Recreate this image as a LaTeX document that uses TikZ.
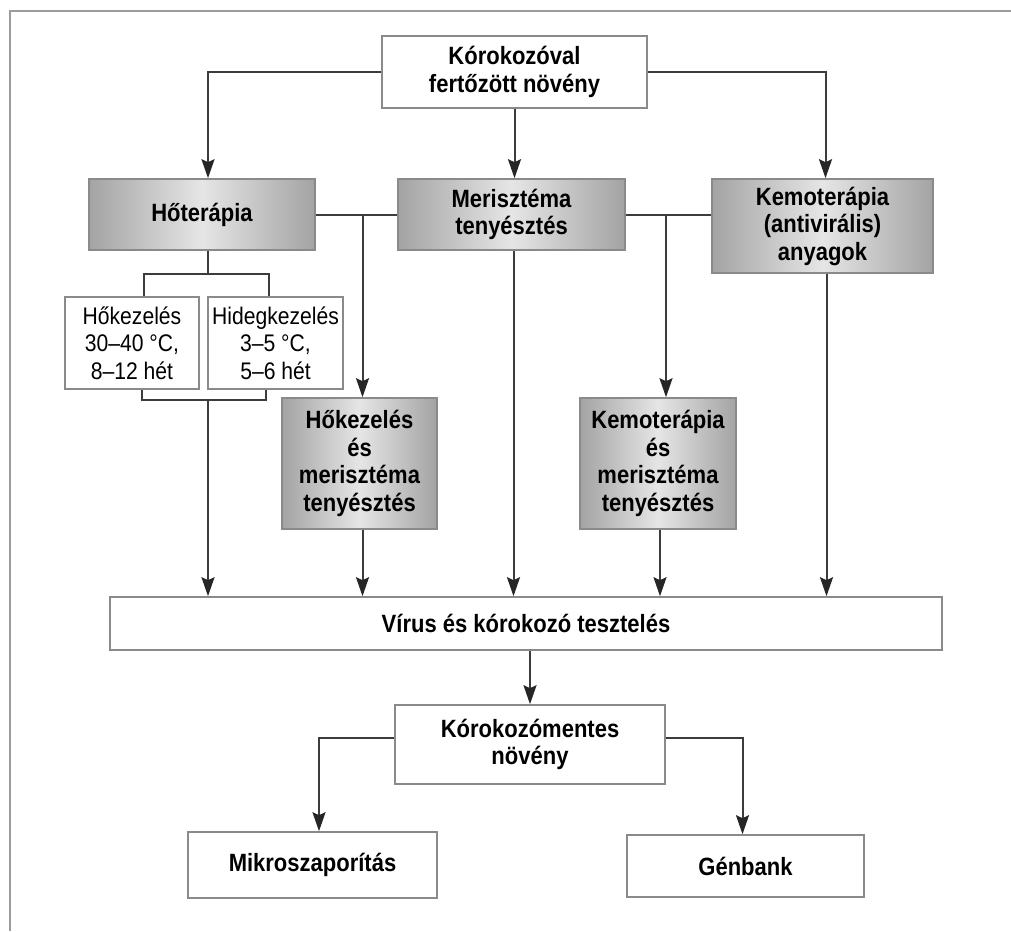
\documentclass[tikz,border=0pt]{standalone}
\usepackage{fontspec}
\setmainfont{Liberation Sans}[FakeStretch=0.88]
\usetikzlibrary{positioning, arrows.meta}

\definecolor{linegray}{HTML}{3C3C3C}
\definecolor{framegray}{HTML}{9C9C9C}
\definecolor{boxgray}{HTML}{8A8A8A}

\begin{document}
\begin{tikzpicture}[
    x=1pt, y=-1pt,
    >={Stealth[length=19pt, width=13pt, inset=3pt, color=black!85]},
    on grid,
    plain/.style={draw=boxgray, line width=1.6pt, inner sep=2pt, align=center, font=\bfseries\fontsize{25}{27.5}\selectfont},
    therapy/.style={plain, left color=black!36, right color=black!36, middle color=black!10},
    option/.style={plain, font=\fontsize{24}{27.5}\selectfont},
    link/.style={draw=linegray, line width=2pt}
]
\useasboundingbox (0,0) rectangle (1011,931);

% frame
\draw[framegray, line width=2.2pt] (10,931) -- (10,11) -- (1011,11);

% -------------------------
% BOXES
% -------------------------
\node[plain, minimum width=265pt, minimum height=72pt] (Fertozott) at (514.5,72) {Kórokozóval\\fertőzött növény};

\node[therapy, minimum width=227pt, minimum height=71pt] (Meriszt) [below=142.5pt of Fertozott, xshift=-3pt] {Merisztéma\\tenyésztés};
\node[therapy, minimum width=226pt, minimum height=71pt] (Hoterapia) [left=309.5pt of Meriszt] {Hőterápia};
\node[therapy, minimum width=221pt, minimum height=94pt] (Kemo) [right=311pt of Meriszt, yshift=-11.5pt] {Kemoterápia\\(antivirális)\\anyagok};

\node[option, minimum width=134pt, minimum height=92pt] (Hokez) [below=128.5pt of Hoterapia, xshift=-70pt] {Hőkezelés\\30–40 °C,\\8–12 hét};
\node[option, minimum width=135pt, minimum height=92pt] (Hideg) [right=143.5pt of Hokez] {Hidegkezelés\\3–5 °C,\\5–6 hét};

\node[therapy, minimum width=155pt, minimum height=131pt] (HoMer) [below=249pt of Meriszt, xshift=-152pt] {Hőkezelés\\és\\merisztéma\\tenyésztés};
\node[therapy, minimum width=156pt, minimum height=131pt] (KemoMer) [right=298.5pt of HoMer] {Kemoterápia\\és\\merisztéma\\tenyésztés};

\node[plain, minimum width=832pt, minimum height=53pt] (Virus) [below=409pt of Meriszt, xshift=14.5pt] {Vírus és kórokozó tesztelés};
\node[plain, minimum width=270pt, minimum height=79pt] (Mentes) [below=121pt of Virus, xshift=4pt] {Kórokozómentes\\növény};

\node[plain, minimum width=249pt, minimum height=66pt] (Mikro) [below=120.5pt of Mentes, xshift=-217.5pt] {Mikroszaporítás};
\node[plain, minimum width=237pt, minimum height=62pt] (Genbank) [right=433pt of Mikro, yshift=-1pt] {Génbank};

% -------------------------
% CONNECTORS
% -------------------------
% infected plant to the three treatments
\draw[link, ->] (Fertozott.west) -| ([xshift=6pt]Hoterapia.north);
\draw[link, ->] (Fertozott.south) -- (Fertozott.south |- Meriszt.north);
\draw[link, ->] (Fertozott.east) -| ([xshift=3pt]Kemo.north);

% combined treatments
\draw[link] (Hoterapia.east) -- (Meriszt.west);
\draw[link, ->] ([xshift=3pt]HoMer.north |- Meriszt.west) -- ([xshift=3pt]HoMer.north);
\draw[link] (Meriszt.east) -- (Meriszt.east -| Kemo.west);
\draw[link, ->] ([xshift=8pt]KemoMer.north |- Meriszt.east) -- ([xshift=8pt]KemoMer.north);

% heat and cold treatment
\coordinate (hotSplit) at ([xshift=6pt, yshift=-23pt]Hoterapia.south);
\draw[link] ([xshift=6pt]Hoterapia.south) -- (hotSplit);
\draw[link] ([xshift=12pt]Hokez.north) |- (hotSplit) -| ([xshift=-7pt]Hideg.north);
\coordinate (hotJoin) at ([yshift=-10pt]Hokez.south -| hotSplit);
\draw[link] ([xshift=10pt]Hokez.south) |- (hotJoin) -| ([xshift=-10pt]Hideg.south);

% into testing
\draw[link, ->] (hotJoin) -- (hotJoin |- Virus.north);
\draw[link, ->] ([xshift=3pt]HoMer.south) -- ([xshift=3pt]HoMer.south |- Virus.north);
\draw[link, ->] ([xshift=2pt]Meriszt.south) -- ([xshift=2pt]Meriszt.south |- Virus.north);
\draw[link, ->] ([xshift=2pt]KemoMer.south) -- ([xshift=2pt]KemoMer.south |- Virus.north);
\draw[link, ->] ([xshift=4pt]Kemo.south) -- ([xshift=4pt]Kemo.south |- Virus.north);

% pathogen free plant
\draw[link, ->] (Mentes.north |- Virus.south) -- (Mentes.north);
\draw[link, ->] ([yshift=6.5pt]Mentes.west) -| ([xshift=6.5pt]Mikro.north);
\draw[link, ->] ([yshift=6.5pt]Mentes.east) -| ([xshift=-3pt]Genbank.north);

\end{tikzpicture}
\end{document}
